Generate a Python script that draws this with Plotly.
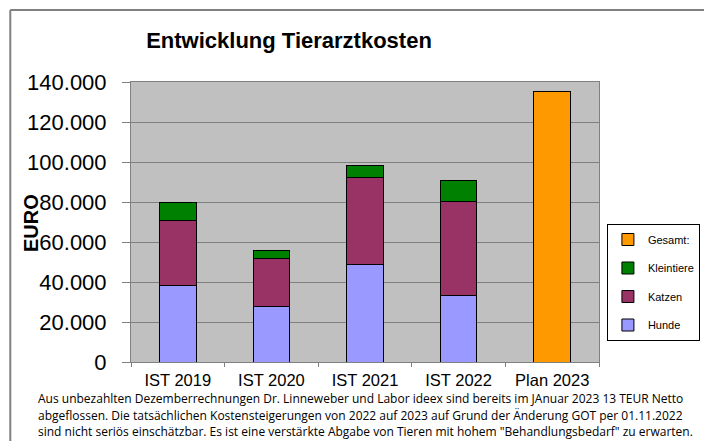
import plotly.graph_objects as go

categories = ["IST 2019", "IST 2020", "IST 2021", "IST 2022", "Plan 2023"]
ist_categories = ["IST 2019", "IST 2020", "IST 2021", "IST 2022"]
hunde = [38500, 28000, 49000, 33300]
katzen = [32100, 24000, 43300, 47000]
kleintiere = [9100, 4000, 6000, 10700]
gesamt_cat = ["Plan 2023"]
gesamt = [135200]

title_text = "Entwicklung Tierarztkosten"
y_title = "EURO"
footnote_lines = [
    "Aus unbezahlten Dezemberrechnungen Dr. Linneweber und Labor ideex sind bereits im JAnuar 2023 13 TEUR Netto",
    "abgeflossen. Die tatsächlichen Kostensteigerungen von 2022 auf 2023 auf Grund der Änderung GOT per 01.11.2022",
    "sind nicht seriös einschätzbar. Es ist eine verstärkte Abgabe von Tieren mit hohem \"Behandlungsbedarf\" zu erwarten.",
]

# the page body adds an 8px offset; build the figure in page pixel coordinates
OFF = 8
W, H = 712 - OFF, 441 - OFF
L, R, T, B = 131 - OFF, 108, 82 - OFF, 79
pw, ph = W - L - R, H - T - B

def px(x):
    return (x - OFF - L) / pw

def py(y):
    return (H - B - (y - OFF)) / ph

line = dict(color="#000000", width=1)
fig = go.Figure()
fig.add_trace(go.Bar(name="Hunde", x=ist_categories, y=hunde, marker=dict(color="#9999FF", line=line),
                     legendgroup="hunde", legendrank=4))
fig.add_trace(go.Bar(name="Katzen", x=ist_categories, y=katzen, marker=dict(color="#993366", line=line),
                     legendgroup="katzen", legendrank=3))
fig.add_trace(go.Bar(name="Kleintiere", x=ist_categories, y=kleintiere, marker=dict(color="#008000", line=line),
                     legendgroup="klein", legendrank=2))
fig.add_trace(go.Bar(name="Gesamt:", x=gesamt_cat, y=gesamt, marker=dict(color="#FF9900", line=line),
                     legendgroup="gesamt", legendrank=1))

fig.update_layout(
    width=W, height=H,
    margin=dict(l=L, r=R, t=T, b=B),
    barmode="stack", bargap=0.61,
    plot_bgcolor="#C0C0C0", paper_bgcolor="#FFFFFF",
    separators=",.",
    font=dict(family="Liberation Sans, Arial, sans-serif", color="#000000"),
    title=dict(text="<b>" + title_text + "</b>", x=(289 - OFF) / W, xanchor="center", xref="container",
               y=1 - (40 - OFF) / H, yanchor="middle", font=dict(size=22)),
    legend=dict(x=px(612), y=py(224), xanchor="left", yanchor="top", traceorder="grouped",
                bordercolor="#000000", borderwidth=1, bgcolor="#FFFFFF",
                font=dict(size=11), tracegroupgap=9.5, itemwidth=30),
    showlegend=True,
)
fig.update_xaxes(categoryorder="array", categoryarray=categories, tickfont=dict(size=16.5),
                 showline=True, linecolor="#808080", linewidth=1, mirror=True, automargin=False,
                 ticks="outside", tickson="boundaries", ticklen=4, tickcolor="#808080", ticklabelstandoff=3)
fig.update_yaxes(range=[0, 140000], dtick=20000, tickformat=",d", tickfont=dict(size=22),
                 showgrid=True, gridcolor="#808080", gridwidth=1, automargin=False,
                 showline=True, linecolor="#808080", linewidth=1, mirror=True,
                 ticks="outside", ticklen=8, tickcolor="#808080", ticklabelstandoff=11,
                 zeroline=False)

fig.add_annotation(text="<b>" + y_title + "</b>", textangle=-90, xref="paper", yref="paper",
                   x=px(30), y=py(223), xanchor="center", yanchor="middle", showarrow=False,
                   font=dict(size=20))
for i, txt in enumerate(footnote_lines):
    fig.add_annotation(text=txt, xref="paper", yref="paper", x=px(35), y=py(398.5 + 16.5 * i),
                       xanchor="left", yanchor="middle", align="left", showarrow=False,
                       font=dict(size=12, family="Open Sans, sans-serif"))

border = dict(color="#808080", width=2)
fig.add_shape(type="line", xref="paper", yref="paper", x0=px(9), x1=px(712), y0=py(10), y1=py(10), line=border)
fig.add_shape(type="line", xref="paper", yref="paper", x0=px(9), x1=px(9), y0=py(10), y1=py(441), line=border)

fig.write_html("out.html")
